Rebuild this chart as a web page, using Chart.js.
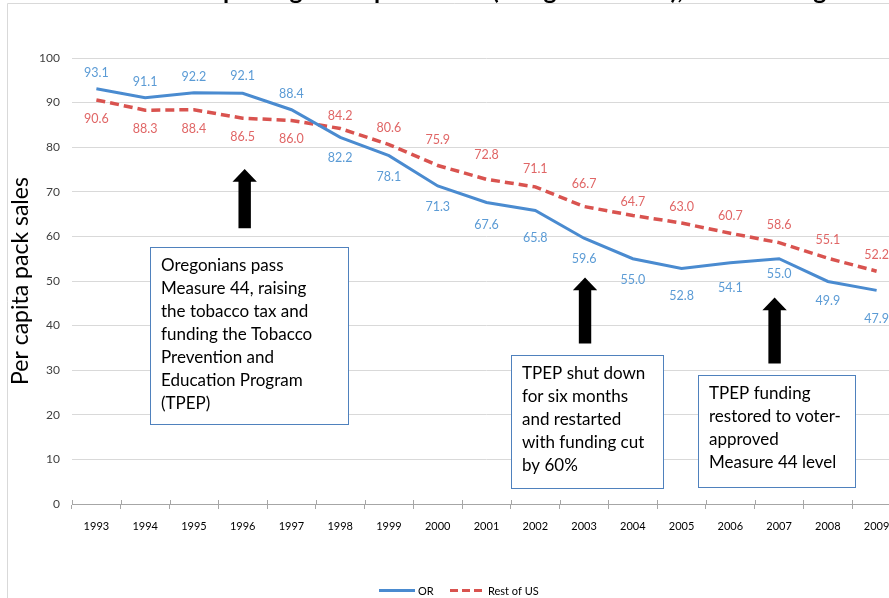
<!DOCTYPE html>
<html>
<head>
<meta charset="utf-8">
<script src="https://cdn.jsdelivr.net/npm/chart.js@4.4.0/dist/chart.umd.min.js"></script>
<style>
  html, body { margin: 0; padding: 0; overflow: hidden; background: #fff; }
  #fundoGeral { width: 901px; height: 598px; }
</style>
</head>
<body>
<div id="fundoGeral"><canvas id="grafico" width="901" height="598"></canvas></div>
<script>
// dados
const anos = ['1993', '1994', '1995', '1996', '1997', '1998', '1999', '2000', '2001',
  '2002', '2003', '2004', '2005', '2006', '2007', '2008', '2009'];
const vendasOR = [93.1, 91.1, 92.2, 92.1, 88.4, 82.2, 78.1, 71.3, 67.6, 65.8, 59.6, 55.0, 52.8, 54.1, 55.0, 49.9, 47.9];
const vendasResto = [90.6, 88.3, 88.4, 86.5, 86.0, 84.2, 80.6, 75.9, 72.8, 71.1, 66.7, 64.7, 63.0, 60.7, 58.6, 55.1, 52.2];
const nomesSeries = ['OR', 'Rest of US'];
const tituloEixoY = 'Per capita pack sales';
const tituloGrafico = 'Per capita cigarette pack sales (using sales data), 1993 through 2009';

const notas = [
  ['Oregonians pass', 'Measure 44, raising', 'the tobacco tax and', 'funding the Tobacco', 'Prevention and', 'Education Program', '(TPEP)'],
  ['TPEP shut down', 'for six months', 'and restarted', 'with funding cut', 'by 60%'],
  ['TPEP funding', 'restored to voter-', 'approved', 'Measure 44 level']
];

const corOR = '#4a8bd0';
const corRotuloOR = '#5b9bd5';
const corResto = '#d9534f';
const corRotuloResto = '#e06666';
const fonte = "Lato, 'Open Sans', sans-serif";

Chart.defaults.font.family = fonte;

// caixas e setas em unidades do grafico (indice do ano, valor)
const caixas = [
  { x0: 1.093, x1: 5.163, y0: 57.56, y1: 17.87 },
  { x0: 8.507, x1: 11.616, y0: 33.41, y1: 3.65 },
  { x0: 12.334, x1: 15.555, y0: 28.99, y1: 3.88 }
];
const setas = [
  { i: 3, dx: 2, topo: 75.1, base: 61.8 },
  { i: 10, dx: 1, topo: 50.8, base: 36.0 },
  { i: 14, dx: -4.5, topo: 46.3, base: 31.5 }
];
const deslocOR = [-16, -16, -16, -17, -16, 21, 21, 21, 22, 27, 21, 21, 27, 25, 15, 20, 29];
const deslocResto = [19, 19, 19, 19, 19, -12, -17, -26, -24, -18, -23, -13, -16, -17, -18, -18, -16];

const desenhos = {
  id: 'desenhos',
  beforeDraw(chart) {
    const ctx = chart.ctx;
    ctx.save();
    // moldura
    ctx.strokeStyle = '#d9d9d9';
    ctx.lineWidth = 1;
    ctx.beginPath();
    ctx.moveTo(7.5, 600);
    ctx.lineTo(7.5, 3.5);
    ctx.lineTo(chart.width, 3.5);
    ctx.stroke();
    // titulo cortado no topo
    ctx.font = 'bold 18px ' + fonte;
    const m1 = ctx.measureText('Per ca').width;
    const m2 = ctx.measureText('Per capita cigarette pack sales ').width;
    const esc = (493 - 224) / (m2 - m1);
    ctx.font = 'bold ' + (18 * esc).toFixed(2) + 'px ' + fonte;
    ctx.fillStyle = '#000';
    ctx.textAlign = 'left';
    ctx.textBaseline = 'alphabetic';
    ctx.fillText(tituloGrafico, 223 - m1 * esc, -1);
    ctx.restore();
  },
  afterDatasetsDraw(chart) {
    const ctx = chart.ctx;
    const x = chart.scales.x;
    const y = chart.scales.y;
    ctx.save();

    // tracinhos do eixo x para cima
    ctx.strokeStyle = '#a6a6a6';
    ctx.lineWidth = 1;
    for (let i = 0; i <= anos.length; i++) {
      const px = Math.round(x.getPixelForValue(i - 0.5)) + 0.5;
      ctx.beginPath();
      ctx.moveTo(px, y.bottom - 4);
      ctx.lineTo(px, y.bottom);
      ctx.stroke();
    }

    // rotulos dos pontos
    ctx.font = '12.5px ' + fonte;
    ctx.textAlign = 'center';
    ctx.textBaseline = 'middle';
    vendasOR.forEach((v, i) => {
      ctx.fillStyle = corRotuloOR;
      ctx.fillText(v.toFixed(1), x.getPixelForValue(i), y.getPixelForValue(v) + deslocOR[i]);
    });
    vendasResto.forEach((v, i) => {
      ctx.fillStyle = corRotuloResto;
      ctx.fillText(v.toFixed(1), x.getPixelForValue(i), y.getPixelForValue(v) + deslocResto[i]);
    });

    // caixas de texto
    caixas.forEach((c, k) => {
      const l = Math.round(x.getPixelForValue(c.x0)) + 0.5;
      const r = Math.round(x.getPixelForValue(c.x1)) + 0.5;
      const t = Math.round(y.getPixelForValue(c.y0)) + 0.5;
      const b = Math.round(y.getPixelForValue(c.y1)) + 0.5;
      ctx.fillStyle = '#fff';
      ctx.fillRect(l, t, r - l, b - t);
      ctx.strokeStyle = '#4f81bd';
      ctx.lineWidth = 1;
      ctx.strokeRect(l, t, r - l, b - t);
      ctx.fillStyle = '#000';
      ctx.font = '17px ' + fonte;
      ctx.textAlign = 'left';
      ctx.textBaseline = 'middle';
      notas[k].forEach((linha, j) => {
        ctx.fillText(linha, l + 10.5, t + 18.5 + j * 23);
      });
    });

    // setas
    ctx.fillStyle = '#000';
    setas.forEach(s => {
      const cx = x.getPixelForValue(s.i) + s.dx;
      const ty = y.getPixelForValue(s.topo);
      const by = y.getPixelForValue(s.base);
      const hh = 12.7;
      ctx.beginPath();
      ctx.moveTo(cx, ty);
      ctx.lineTo(cx + 12.2, ty + hh);
      ctx.lineTo(cx + 6.2, ty + hh);
      ctx.lineTo(cx + 6.2, by);
      ctx.lineTo(cx - 6.2, by);
      ctx.lineTo(cx - 6.2, ty + hh);
      ctx.lineTo(cx - 12.2, ty + hh);
      ctx.closePath();
      ctx.fill();
    });

    // legenda
    const ly = 590.5;
    ctx.lineWidth = 3;
    ctx.strokeStyle = corOR;
    ctx.beginPath();
    ctx.moveTo(379, ly);
    ctx.lineTo(415, ly);
    ctx.stroke();
    ctx.strokeStyle = corResto;
    ctx.setLineDash([8, 4]);
    ctx.beginPath();
    ctx.moveTo(450, ly);
    ctx.lineTo(482, ly);
    ctx.stroke();
    ctx.setLineDash([]);
    ctx.font = '11px ' + fonte;
    ctx.fillStyle = '#000';
    ctx.textAlign = 'left';
    ctx.textBaseline = 'middle';
    ctx.fillText(nomesSeries[0], 418, ly + 1);
    ctx.fillText(nomesSeries[1], 488, ly + 1);
    ctx.restore();
  }
};

const ctx = document.getElementById('grafico').getContext('2d');
new Chart(ctx, {
  type: 'line',
  data: {
    labels: anos,
    datasets: [{
      label: nomesSeries[0],
      data: vendasOR,
      borderColor: corOR,
      borderWidth: 3,
      pointRadius: 0,
      tension: 0,
      fill: false
    }, {
      label: nomesSeries[1],
      data: vendasResto,
      borderColor: corResto,
      borderWidth: 3.5,
      borderDash: [9, 5],
      pointRadius: 0,
      tension: 0,
      fill: false
    }]
  },
  options: {
    responsive: false,
    animation: false,
    layout: { padding: { top: 58, left: 0, right: 0, bottom: 0 } },
    plugins: {
      legend: { display: false },
      tooltip: { enabled: false }
    },
    scales: {
      x: {
        offset: true,
        grid: { offset: true, drawOnChartArea: false, drawTicks: true, tickLength: 5, color: '#a6a6a6' },
        border: { color: '#a6a6a6' },
        ticks: { padding: 11, maxRotation: 0, autoSkip: false, color: '#000', font: { size: 11 } },
        afterFit: (s) => { s.height = 94; }
      },
      y: {
        min: 0,
        max: 100,
        ticks: { stepSize: 10, padding: 12, color: '#404040', font: { size: 12 } },
        grid: { color: '#d9d9d9', drawTicks: false },
        border: { display: false },
        title: {
          display: true,
          text: tituloEixoY,
          color: '#000',
          font: { size: 23, weight: 'normal' },
          padding: { top: 6.7, bottom: 0 }
        },
        afterFit: (s) => { s.width = 72; }
      }
    }
  },
  plugins: [desenhos]
});
</script>
</body>
</html>
